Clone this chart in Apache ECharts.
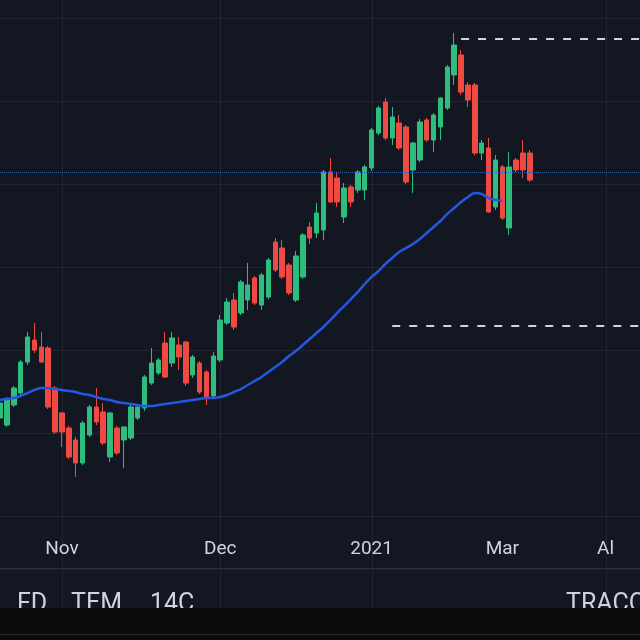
<!DOCTYPE html>
<html>
<head>
<meta charset="utf-8">
<style>
  html, body { margin: 0; padding: 0; background: #131722; }
  #main { width: 640px; height: 640px; }
</style>
<script src="https://cdn.jsdelivr.net/npm/echarts@6/dist/echarts.min.js"></script>
</head>
<body>
<div id="main"></div>
<script>
// daily candles
var opens  = [31.81, 30.96, 33.37, 34.82, 38.55, 41.20, 40.36, 40.24, 35.42, 32.41,
              30.60, 29.16, 26.39, 29.76, 33.13, 32.53, 27.11, 30.60, 29.16, 29.40,
              31.81, 33.01, 36.02, 37.23, 40.84, 38.43, 40.60, 40.96, 36.99, 38.43,
              37.35, 34.46, 38.80, 43.25, 46.02, 44.46, 46.02, 48.67, 45.42, 46.39,
              53.01, 52.29, 50.24, 46.02, 48.80, 54.82, 54.10, 54.46, 61.45, 60.72,
              56.02, 59.64, 59.28, 59.28, 61.93, 66.14, 69.88, 65.54, 67.35, 66.87,
              61.69, 62.89, 67.71, 65.30, 66.87, 69.16, 73.13, 75.54, 71.93, 71.93,
              63.73, 64.34, 57.23, 62.05, 54.70, 62.89, 63.73, 63.73];
var closes = [33.61, 33.98, 35.42, 38.55, 41.57, 40.00, 38.55, 33.13, 30.12, 30.12,
              27.11, 26.39, 31.20, 33.13, 31.33, 28.80, 32.41, 27.59, 30.72, 33.13,
              33.13, 36.75, 38.43, 38.80, 36.75, 41.45, 39.16, 36.02, 39.16, 34.94,
              34.34, 39.28, 43.61, 45.78, 42.77, 48.19, 47.83, 45.66, 49.04, 50.84,
              49.64, 48.80, 46.87, 51.33, 53.86, 53.49, 56.51, 61.45, 57.83, 57.83,
              59.52, 57.83, 61.45, 62.05, 66.51, 69.16, 65.54, 68.07, 64.34, 60.24,
              64.94, 67.47, 65.30, 68.31, 70.36, 74.10, 76.75, 71.08, 70.12, 63.73,
              64.94, 56.63, 62.89, 55.90, 62.05, 61.69, 61.69, 60.48];
var lows   = [30.96, 30.72, 33.13, 34.58, 38.19, 39.64, 38.43, 32.89, 29.88, 28.31,
              26.87, 24.70, 26.14, 29.52, 30.96, 28.55, 26.51, 27.35, 25.78, 29.16,
              31.57, 32.65, 35.78, 36.99, 36.63, 37.95, 37.59, 35.66, 36.63, 34.70,
              33.37, 34.22, 38.55, 43.01, 42.41, 44.22, 44.82, 45.42, 44.82, 46.14,
              49.40, 48.55, 46.63, 45.78, 48.55, 52.77, 53.49, 53.25, 57.71, 57.23,
              55.30, 57.23, 58.92, 58.07, 61.57, 65.90, 65.30, 64.70, 64.10, 60.00,
              58.92, 62.65, 65.06, 63.86, 65.30, 68.92, 71.93, 70.72, 69.28, 63.49,
              62.89, 56.51, 56.87, 55.66, 53.86, 61.45, 60.72, 60.24];
var highs  = [34.22, 34.34, 35.66, 38.80, 42.17, 43.25, 42.17, 40.48, 35.66, 32.53,
              30.84, 29.52, 31.45, 33.37, 35.42, 33.61, 32.53, 30.84, 30.84, 33.37,
              33.37, 36.99, 40.24, 39.04, 42.17, 42.17, 41.57, 41.08, 39.40, 38.67,
              37.59, 39.76, 44.22, 46.27, 46.87, 48.43, 50.48, 48.92, 49.28, 51.08,
              53.49, 53.25, 50.48, 51.93, 54.10, 55.42, 57.71, 61.69, 63.13, 61.45,
              60.12, 59.88, 61.69, 62.29, 66.75, 69.40, 70.36, 69.28, 68.31, 67.11,
              65.06, 67.83, 67.95, 68.55, 70.48, 74.34, 78.19, 76.14, 72.29, 72.17,
              65.30, 65.54, 63.49, 62.29, 63.86, 63.13, 65.30, 64.10];
// moving average (blue line)
var maValues = [33.98, 34.10, 34.22, 34.46, 34.82, 35.18, 35.42, 35.42, 35.30, 35.18,
                35.06, 34.94, 34.70, 34.58, 34.34, 34.10, 33.98, 33.73, 33.61, 33.49,
                33.37, 33.25, 33.25, 33.37, 33.49, 33.61, 33.73, 33.86, 33.98, 34.10,
                34.22, 34.22, 34.34, 34.58, 34.94, 35.30, 35.78, 36.27, 36.75, 37.35,
                37.95, 38.55, 39.28, 39.88, 40.60, 41.33, 42.05, 42.77, 43.61, 44.46,
                45.30, 46.14, 46.99, 47.95, 48.80, 49.52, 50.36, 51.08, 51.81, 52.29,
                52.77, 53.37, 54.10, 54.82, 55.54, 56.39, 57.11, 57.83, 58.43, 58.92,
                58.80, 58.31, 58.07, 57.95];

var slotCount = 94;
var categories = [];
for (var i = 0; i < slotCount; i++) categories.push('d' + i);
var tickLabels = {9: 'Nov', 32: 'Dec', 54: '2021', 73: 'Mar', 88: 'Al'};
var gridLineSlots = [9, 32, 54, 88];

var lastPrice = 61.45;
var upperLevel = 77.47, upperFrom = 67;
var lowerLevel = 42.89, lowerFrom = 57;

var footerLeft = [['FD', 17], ['TEM', 71], ['14C', 150]];
var footerRight = ['TRACO', 566];

var candleData = opens.map(function(o, i) {
    return [o, closes[i], lows[i], highs[i]];
});

var chart = echarts.init(document.getElementById('main'));
var option = {
    backgroundColor: '#131722',
    animation: false,
    grid: { left: 0, right: 0, top: 18, bottom: 124 },
    xAxis: {
        type: 'category',
        data: categories,
        boundaryGap: false,
        axisLine: { show: false },
        axisTick: { show: false },
        splitLine: { show: false },
        axisLabel: {
            interval: function(idx) { return tickLabels[idx] !== undefined; },
            formatter: function(v, idx) { return tickLabels[idx] || ''; },
            color: '#d1d4dc',
            fontSize: 19,
            fontFamily: 'Roboto',
            margin: 24
        }
    },
    yAxis: {
        type: 'value',
        position: 'right',
        min: 20,
        max: 80,
        interval: 10,
        axisLine: { show: false },
        axisTick: { show: false },
        axisLabel: { show: false },
        splitLine: { lineStyle: { color: '#222633', width: 1 } }
    },
    series: [{
        type: 'candlestick',
        data: candleData,
        barWidth: 5,
        itemStyle: {
            color: '#2ebd7e',
            color0: '#ee4a42',
            borderColor: '#2ebd7e',
            borderColor0: '#ee4a42',
            borderWidth: 1
        },
        markLine: {
            silent: true,
            symbol: 'none',
            label: { show: false },
            data: [
                [{ coord: [upperFrom, upperLevel], lineStyle: { color: '#d4d4d4', type: [8, 9], width: 2 } },
                 { coord: [slotCount - 1, upperLevel] }],
                [{ coord: [lowerFrom, lowerLevel], lineStyle: { color: '#d4d4d4', type: [8, 9], width: 2 } },
                 { coord: [slotCount - 1, lowerLevel] }],
                [{ coord: [0, lastPrice], lineStyle: { color: '#2c5aa0', type: 'dotted', width: 1 } },
                 { coord: [slotCount - 1, lastPrice] }]
            ]
        }
    }, {
        type: 'line',
        data: maValues,
        smooth: 0.4,
        showSymbol: false,
        lineStyle: { color: '#2358e0', width: 2.5 },
        z: 3
    }]
};
chart.setOption(option);

// vertical grid lines run down through the footer
var graphics = gridLineSlots.map(function(s) {
    var x = Math.round(chart.convertToPixel({ xAxisIndex: 0 }, categories[s])) + 0.5;
    return {
        type: 'line', silent: true, z: 0,
        shape: { x1: x, y1: 0, x2: x, y2: 608 },
        style: { stroke: '#222633', lineWidth: 1 }
    };
});
graphics.push({
    type: 'rect', silent: true, z: 5,
    shape: { x: 0, y: 568, width: 640, height: 1.5 },
    style: { fill: '#2b2f3b' }
});
footerLeft.concat([footerRight]).forEach(function(t) {
    graphics.push({
        type: 'text', silent: true, z: 10,
        x: t[1], y: 592,
        style: { text: t[0], fill: '#cfd3dc', font: '25px Roboto', textVerticalAlign: 'top' }
    });
});
graphics.push({
    type: 'rect', silent: true, z: 20,
    shape: { x: 0, y: 608, width: 640, height: 32 },
    style: { fill: '#0b0b0c' }
});
graphics.push({
    type: 'rect', silent: true, z: 21,
    shape: { x: 0, y: 634, width: 640, height: 1 },
    style: { fill: '#26272a' }
});
chart.setOption({ graphic: graphics });
</script>
</body>
</html>
